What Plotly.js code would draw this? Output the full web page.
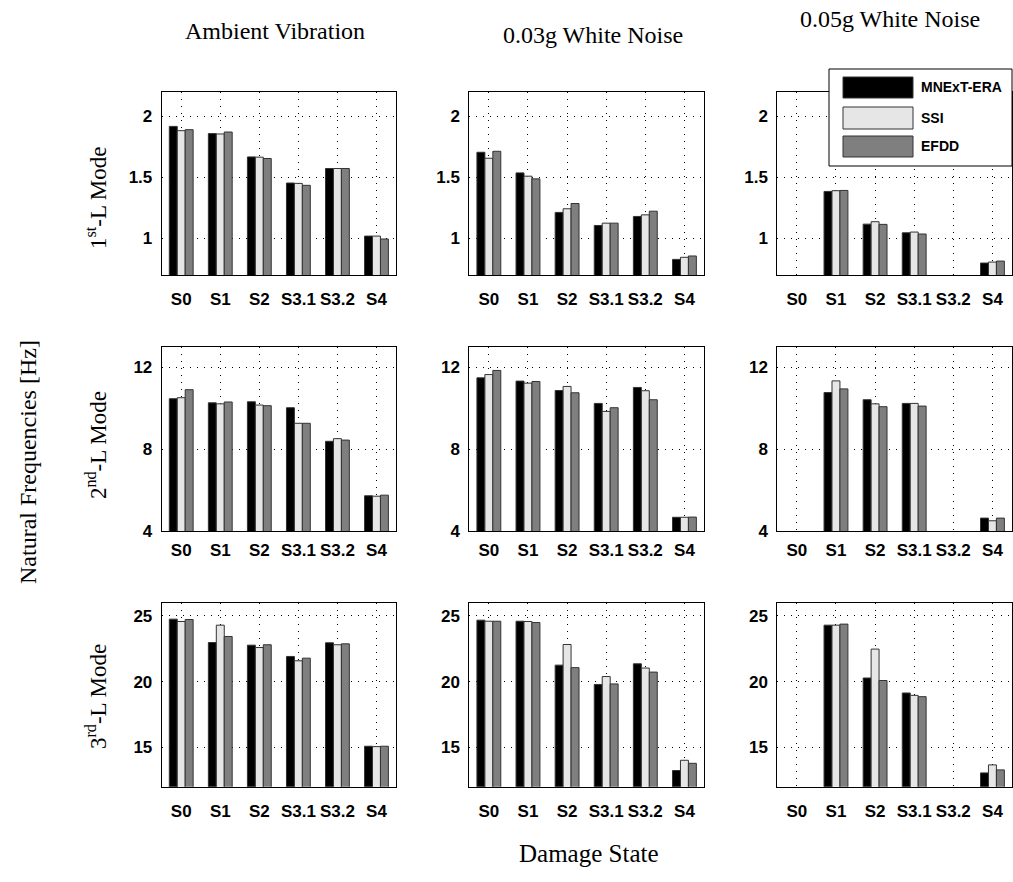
<!DOCTYPE html>
<html>
<head>
<meta charset="utf-8">
<script src="https://cdn.plot.ly/plotly-3.0.1.min.js"></script>
<style>html,body{margin:0;padding:0;background:#fff;}#chart{width:1013px;height:882px;}</style>
</head>
<body>
<div id="chart"></div>
<script>
// ---------- data ----------
const categories = ['S0', 'S1', 'S2', 'S3.1', 'S3.2', 'S4'];
const methods = ['MNExT-ERA', 'SSI', 'EFDD'];
const excitations = ['Ambient Vibration', '0.03g White Noise', '0.05g White Noise'];
const modeLabels = ['1<sup>st</sup>-L Mode', '2<sup>nd</sup>-L Mode', '3<sup>rd</sup>-L Mode'];

// Mode 1 [Hz]
const amb_m1_mnext = [1.918, 1.859, 1.668, 1.454, 1.573, 1.019];
const amb_m1_ssi   = [1.883, 1.856, 1.666, 1.451, 1.573, 1.019];
const amb_m1_efdd  = [1.891, 1.872, 1.655, 1.435, 1.573, 0.995];
const wn3_m1_mnext = [1.706, 1.537, 1.213, 1.106, 1.180, 0.828];
const wn3_m1_ssi   = [1.657, 1.510, 1.243, 1.125, 1.193, 0.845];
const wn3_m1_efdd  = [1.714, 1.488, 1.286, 1.125, 1.223, 0.856];
const wn5_m1_mnext = [null, 1.385, 1.117, 1.046, null, 0.798];
const wn5_m1_ssi   = [null, 1.391, 1.137, 1.052, null, 0.806];
const wn5_m1_efdd  = [null, 1.393, 1.115, 1.036, null, 0.814];

// Mode 2 [Hz]
const amb_m2_mnext = [10.46, 10.26, 10.31, 10.02, 8.38, 5.72];
const amb_m2_ssi   = [10.51, 10.21, 10.15, 9.26, 8.51, 5.70];
const amb_m2_efdd  = [10.90, 10.30, 10.12, 9.26, 8.44, 5.75];
const wn3_m2_mnext = [11.48, 11.32, 10.86, 10.23, 11.01, 4.67];
const wn3_m2_ssi   = [11.64, 11.22, 11.06, 9.84, 10.85, 4.67];
const wn3_m2_efdd  = [11.84, 11.30, 10.75, 10.02, 10.41, 4.68];
const wn5_m2_mnext = [null, 10.76, 10.41, 10.23, null, 4.63];
const wn5_m2_ssi   = [null, 11.33, 10.21, 10.23, null, 4.50];
const wn5_m2_efdd  = [null, 10.94, 10.07, 10.10, null, 4.63];

// Mode 3 [Hz]
const amb_m3_mnext = [24.75, 22.97, 22.77, 21.91, 22.95, 15.08];
const amb_m3_ssi   = [24.57, 24.29, 22.59, 21.58, 22.80, 15.05];
const amb_m3_efdd  = [24.72, 23.43, 22.80, 21.78, 22.87, 15.08];
const wn3_m3_mnext = [24.67, 24.59, 21.25, 19.78, 21.35, 13.23];
const wn3_m3_ssi   = [24.59, 24.57, 22.82, 20.38, 21.03, 14.01];
const wn3_m3_efdd  = [24.59, 24.49, 21.06, 19.82, 20.72, 13.78];
const wn5_m3_mnext = [null, 24.29, 20.27, 19.13, null, 13.05];
const wn5_m3_ssi   = [null, 24.29, 22.47, 18.95, null, 13.66];
const wn5_m3_efdd  = [null, 24.37, 20.08, 18.85, null, 13.28];

// y-axis ranges and ticks per mode row
const yRanges = [[0.7, 2.2], [4, 13], [12, 26]];
const yTicks = [[1, 1.5, 2], [4, 8, 12], [15, 20, 25]];

// ---------- layout helpers ----------
const panels = [
  [[amb_m1_mnext, amb_m1_ssi, amb_m1_efdd], [wn3_m1_mnext, wn3_m1_ssi, wn3_m1_efdd], [wn5_m1_mnext, wn5_m1_ssi, wn5_m1_efdd]],
  [[amb_m2_mnext, amb_m2_ssi, amb_m2_efdd], [wn3_m2_mnext, wn3_m2_ssi, wn3_m2_efdd], [wn5_m2_mnext, wn5_m2_ssi, wn5_m2_efdd]],
  [[amb_m3_mnext, amb_m3_ssi, amb_m3_efdd], [wn3_m3_mnext, wn3_m3_ssi, wn3_m3_efdd], [wn5_m3_mnext, wn5_m3_ssi, wn5_m3_efdd]]
];
const colors = ['#000000', '#e6e6e6', '#7f7f7f'];
const W = 1013, H = 882;
const colPx = [[161.7, 396], [469.3, 704], [777.3, 1012]];
const rowPx = [[92, 275], [346.7, 531], [602.7, 786.7]];
const xStandoff = [9, 4, 9];

const tickFont = {family: 'Arial, "Liberation Sans", sans-serif', size: 17, color: '#000', weight: 700};
const serif = '"Times New Roman", "Liberation Serif", serif';

const traces = [];
const layout = {
  width: W, height: H,
  margin: {l: 0, r: 0, t: 0, b: 0},
  paper_bgcolor: '#fff', plot_bgcolor: '#fff',
  showlegend: false,
  barmode: 'group', bargap: 0.39, bargroupgap: 0,
  annotations: [], shapes: []
};

for (let r = 0; r < 3; r++) {
  for (let c = 0; c < 3; c++) {
    const p = r * 3 + c;
    const sfx = p === 0 ? '' : String(p + 1);
    for (let m = 0; m < 3; m++) {
      traces.push({
        type: 'bar', x: categories, y: panels[r][c][m], name: methods[m],
        xaxis: 'x' + sfx, yaxis: 'y' + sfx,
        marker: {color: colors[m], line: {color: '#333333', width: 1}},
        hoverinfo: 'x+y+name'
      });
    }
    layout['xaxis' + sfx] = {
      domain: [colPx[c][0] / W, colPx[c][1] / W],
      anchor: 'y' + sfx,
      type: 'category', range: [-0.5, 5.5],
      showline: true, mirror: true, linecolor: '#000', linewidth: 1,
      showgrid: true, gridcolor: '#000', gridwidth: 1, griddash: '1px,6px',
      ticks: '', tickfont: tickFont, ticklabelstandoff: xStandoff[r],
      zeroline: false, fixedrange: true
    };
    layout['yaxis' + sfx] = {
      domain: [1 - rowPx[r][1] / H, 1 - rowPx[r][0] / H],
      anchor: 'x' + sfx,
      range: yRanges[r], tickvals: yTicks[r], ticktext: yTicks[r].map(String),
      showline: true, mirror: true, linecolor: '#000', linewidth: 1,
      showgrid: true, gridcolor: '#000', gridwidth: 1, griddash: '1px,6px',
      ticks: '', tickfont: tickFont, ticklabelstandoff: 5,
      zeroline: false, fixedrange: true
    };
  }
}

// column titles
const titlePos = [[275, 31], [593, 35], [890, 19]];
excitations.forEach((t, i) => {
  layout.annotations.push({
    text: t, xref: 'paper', yref: 'paper',
    x: titlePos[i][0] / W, y: 1 - titlePos[i][1] / H,
    xanchor: 'center', yanchor: 'middle', showarrow: false,
    font: {family: serif, size: 24, color: '#000'}
  });
});
// row labels
const rowLabelY = [198, 445, 697];
modeLabels.forEach((t, i) => {
  layout.annotations.push({
    text: t, xref: 'paper', yref: 'paper',
    x: 96 / W, y: 1 - rowLabelY[i] / H, textangle: -90,
    xanchor: 'center', yanchor: 'middle', showarrow: false,
    font: {family: serif, size: 23, color: '#000'}
  });
});
layout.annotations.push({
  text: 'Natural Frequencies [Hz]', xref: 'paper', yref: 'paper',
  x: 28 / W, y: 1 - 462 / H, textangle: -90,
  xanchor: 'center', yanchor: 'middle', showarrow: false,
  font: {family: serif, size: 24, color: '#000'}
});
layout.annotations.push({
  text: 'Damage State', xref: 'paper', yref: 'paper',
  x: 589 / W, y: 1 - 853 / H,
  xanchor: 'center', yanchor: 'middle', showarrow: false,
  font: {family: serif, size: 25, color: '#000'}
});

// legend box (drawn manually to match patch style)
const legBox = [829, 69, 1012, 166];
layout.shapes.push({
  type: 'rect', xref: 'paper', yref: 'paper',
  x0: legBox[0] / W, x1: legBox[2] / W, y0: 1 - legBox[3] / H, y1: 1 - legBox[1] / H,
  line: {color: '#000', width: 1}, fillcolor: '#fff', layer: 'above'
});
const patchY = [[77, 98], [107, 129], [136, 157]];
methods.forEach((name, i) => {
  layout.shapes.push({
    type: 'rect', xref: 'paper', yref: 'paper',
    x0: 843 / W, x1: 913 / W, y0: 1 - patchY[i][1] / H, y1: 1 - patchY[i][0] / H,
    line: {color: '#333333', width: 1}, fillcolor: colors[i], layer: 'above'
  });
  layout.annotations.push({
    text: name, xref: 'paper', yref: 'paper',
    x: 919 / W, y: 1 - (patchY[i][0] + patchY[i][1]) / 2 / H,
    xanchor: 'left', yanchor: 'middle', showarrow: false,
    font: {family: 'Arial, "Liberation Sans", sans-serif', size: 14, color: '#000', weight: 700}
  });
});

Plotly.newPlot('chart', traces, layout, {staticPlot: true, displayModeBar: false});
</script>
</body>
</html>
